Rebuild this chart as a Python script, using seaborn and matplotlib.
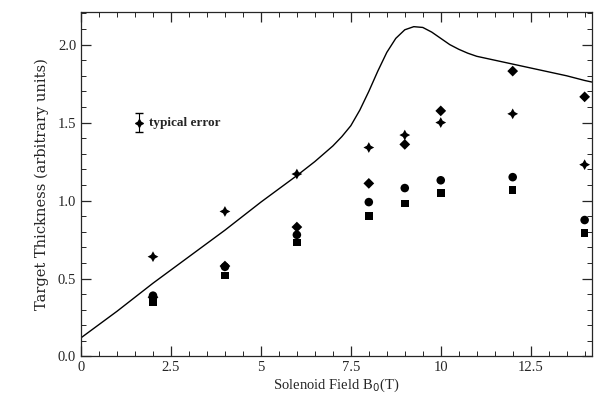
import numpy as np
import pandas as pd
import seaborn as sns
import matplotlib.pyplot as plt
from matplotlib.ticker import MultipleLocator

# measured points, B field in tesla
field = [2, 4, 6, 8, 9, 10, 12, 14]
plus_vals = [0.64, 0.93, 1.17, 1.34, 1.42, 1.50, 1.556, 1.23]
diamond_vals = [0.38, 0.58, 0.83, 1.11, 1.36, 1.575, 1.83, 1.665]
circle_vals = [0.39, 0.575, 0.78, 0.99, 1.08, 1.13, 1.15, 0.875]
square_vals = [0.35, 0.52, 0.73, 0.90, 0.98, 1.05, 1.067, 0.79]

# calculated curve
curve_x = [0, 1, 2, 3, 4, 5, 6, 6.5, 7, 7.25, 7.5, 7.75, 8, 8.25, 8.5, 8.75, 9, 9.25, 9.5,
           9.75, 10, 10.25, 10.5, 10.75, 11, 11.5, 12, 12.5, 13, 13.5, 14, 14.2]
curve_y = [0.12, 0.29, 0.47, 0.64, 0.81, 0.99, 1.16, 1.25, 1.35, 1.41, 1.48, 1.58, 1.70,
           1.83, 1.95, 2.04, 2.095, 2.115, 2.11, 2.08, 2.04, 2.00, 1.97, 1.945, 1.925,
           1.90, 1.875, 1.85, 1.825, 1.80, 1.77, 1.76]

x_ticks = [0, 2.5, 5, 7.5, 10, 12.5]
x_ticklabels = ["0", "2.5", "5", "7.5", "10", "12.5"]
y_ticks = [0.0, 0.5, 1.0, 1.5, 2.0]
y_ticklabels = ["0.0", "0.5", "1.0", "1.5", "2.0"]

err_x, err_y, err_size = 1.6, 1.5, 0.06

sns.set_style("ticks")
plt.rcParams["font.family"] = ["Liberation Serif", "DejaVu Serif"]

df = pd.concat([
    pd.DataFrame({"B": field, "t": plus_vals, "kind": "plus"}),
    pd.DataFrame({"B": field, "t": diamond_vals, "kind": "diamond"}),
    pd.DataFrame({"B": field, "t": circle_vals, "kind": "circle"}),
    pd.DataFrame({"B": field, "t": square_vals, "kind": "square"}),
])
sizes = {"plus": 60, "diamond": 30, "circle": 38, "square": 30}
df["sz"] = df["kind"].map(sizes)

fig = plt.figure(figsize=(5.96, 3.95), dpi=100)
ax = fig.add_axes([0.136, 0.0975, 0.857, 0.8725])

sns.lineplot(x=curve_x, y=curve_y, color="black", linewidth=1.0, ax=ax)
sns.scatterplot(data=df, x="B", y="t", style="kind", size="sz", sizes=(30, 60),
                markers={"plus": (4, 1, 0), "diamond": "D", "circle": "o", "square": "s"},
                color="black", edgecolor="black", linewidth=0, legend=False, ax=ax)

ax.errorbar([err_x], [err_y], yerr=[err_size], fmt="none", ecolor="black",
            elinewidth=0.8, capsize=3)
ax.scatter([err_x], [err_y], marker=(4, 1, 0), s=30, color="black")
ax.text(err_x + 0.3, err_y, "typical error", fontsize=9.5, va="center", fontweight="bold")

ax.set_xlim(0, 14.2)
ax.set_ylim(0, 2.21)
ax.set_xticks(x_ticks)
ax.set_xticklabels(x_ticklabels)
ax.set_yticks(y_ticks)
ax.set_yticklabels(y_ticklabels)
ax.xaxis.set_minor_locator(MultipleLocator(0.5))
ax.yaxis.set_minor_locator(MultipleLocator(0.1))
ax.tick_params(which="both", direction="in", top=True, right=True, labelsize=10.5)
ax.tick_params(which="major", length=7, width=0.9)
ax.tick_params(which="minor", length=3.5, width=0.7)
for s in ax.spines.values():
    s.set_linewidth(0.9)

ax.set_xlabel("Solenoid Field B$_0$(T)", fontsize=10.5, labelpad=2)
ax.set_ylabel("Target Thickness (arbitrary units)", fontsize=10.5, labelpad=6,
              family=["DejaVu Serif"])

fig.savefig("out.png", dpi=100)
